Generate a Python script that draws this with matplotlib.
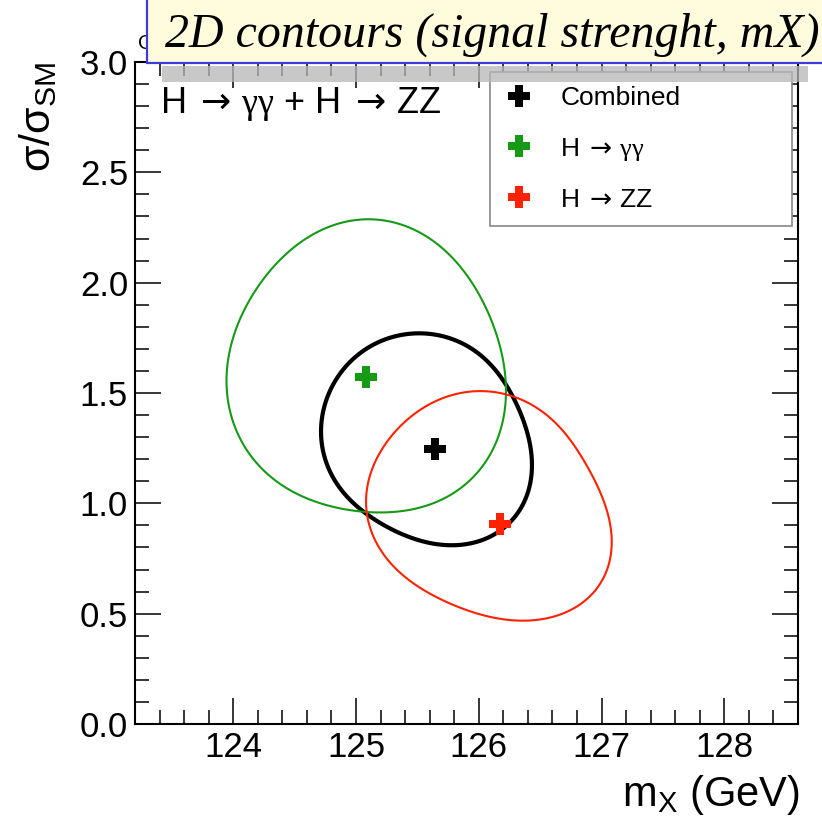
import numpy as np
import matplotlib
matplotlib.use("Agg")
import matplotlib.pyplot as plt
from matplotlib.path import Path
from matplotlib.patches import PathPatch, Rectangle
from matplotlib.transforms import Bbox

plt.rcParams['font.family'] = ['Liberation Sans', 'DejaVu Sans']
plt.rcParams['mathtext.fontset'] = 'custom'
plt.rcParams['mathtext.rm'] = 'Liberation Sans'
plt.rcParams['mathtext.it'] = 'Liberation Sans'
plt.rcParams['mathtext.bf'] = 'Liberation Sans:bold'
plt.rcParams['mathtext.sf'] = 'DejaVu Sans'
plt.rcParams['mathtext.tt'] = 'Liberation Serif'

# ---- data: 68% CL contours in (m_X, sigma/sigma_SM) and best-fit points ----
comb_x = [125.52, 125.79, 126.04, 126.23, 126.36, 126.43, 126.40, 126.31, 126.09, 125.79,
          125.52, 125.22, 124.95, 124.77, 124.72, 124.76, 124.87, 125.06, 125.28]
comb_y = [1.767, 1.740, 1.665, 1.529, 1.378, 1.196, 1.060, 0.939, 0.849, 0.811,
          0.834, 0.902, 1.015, 1.166, 1.317, 1.468, 1.589, 1.695, 1.752]

gg_x = [125.09, 125.48, 125.81, 126.02, 126.16, 126.21, 126.20, 126.08, 125.81, 125.48,
        125.13, 124.75, 124.40, 124.12, 123.97, 123.95, 124.00, 124.15, 124.40, 124.72]
gg_y = [2.288, 2.239, 2.095, 1.929, 1.748, 1.567, 1.385, 1.204, 1.053, 0.977,
        0.959, 0.992, 1.083, 1.234, 1.415, 1.551, 1.748, 1.944, 2.110, 2.239]

zz_x = [126.00, 126.29, 126.57, 126.84, 127.01, 127.08, 127.05, 126.95, 126.68, 126.29,
        125.97, 125.64, 125.34, 125.14, 125.09, 125.10, 125.24, 125.45, 125.70]
zz_y = [1.506, 1.483, 1.393, 1.211, 1.015, 0.849, 0.713, 0.592, 0.502, 0.474,
        0.502, 0.577, 0.698, 0.849, 0.985, 1.106, 1.272, 1.393, 1.476]

best_x = [125.64, 125.08, 126.17]
best_y = [1.245, 1.574, 0.906]
series_labels = ['Combined',
                 r'$\mathrm{H}\;\mathsf{\rightarrow}\,\mathtt{\gamma\gamma}$',
                 r'$\mathrm{H}\;\mathsf{\rightarrow}\,\mathrm{ZZ}$']
series_colors = ['black', '#159a15', '#ff2200']

x_ticks = [124, 125, 126, 127, 128]
y_ticks = [0.0, 0.5, 1.0, 1.5, 2.0, 2.5, 3.0]


def closed_curve(xs, ys, order=4, n=480):
    """Smooth closed path (low-order Fourier fit) through contour points."""
    x = np.asarray(xs, float)
    y = np.asarray(ys, float)
    cx, cy = x.mean(), y.mean()
    t = np.unwrap(np.arctan2((y - cy) / np.ptp(y), (x - cx) / np.ptp(x)))

    def design(tt):
        cols = [np.ones_like(tt)]
        for k in range(1, order + 1):
            cols += [np.cos(k * tt), np.sin(k * tt)]
        return np.column_stack(cols)

    A = design(t)
    cxs, *_ = np.linalg.lstsq(A, x, rcond=None)
    cys, *_ = np.linalg.lstsq(A, y, rcond=None)
    tt = np.linspace(0, 2 * np.pi, n)
    B = design(tt)
    verts = np.column_stack([B @ cxs, B @ cys])
    codes = [Path.MOVETO] + [Path.LINETO] * (n - 2) + [Path.CLOSEPOLY]
    return Path(verts, codes)


fig = plt.figure(figsize=(8.22, 8.18), dpi=100)
ax = fig.add_axes([135 / 822, 94 / 818, 663 / 822, 662 / 818])
ax.set_xlim(123.2, 128.6)
ax.set_ylim(0.0, 3.0)

contours = [(comb_x, comb_y, 3.0), (gg_x, gg_y, 1.5), (zz_x, zz_y, 1.5)]
for (cx, cy, lw), col in zip(contours, series_colors):
    ax.add_patch(PathPatch(closed_curve(cx, cy), fill=False, edgecolor=col,
                           linewidth=lw, zorder=2))

handles = []
for bx, by, col, lab in zip(best_x, best_y, series_colors, series_labels):
    h, = ax.plot([bx], [by], linestyle='none', marker='P', markersize=16,
                 color=col, markeredgewidth=0, label=lab, zorder=4)
    handles.append(h)

# axes styling
for sp in ax.spines.values():
    sp.set_linewidth(1.5)
ax.set_xticks(x_ticks)
ax.set_yticks(y_ticks)
ax.set_xticklabels([str(t) for t in x_ticks])
ax.set_yticklabels([f"{t:.1f}" for t in y_ticks])
ax.set_xticks(np.arange(123.2, 128.61, 0.2), minor=True)
ax.set_yticks(np.arange(0.0, 3.01, 0.1), minor=True)
ax.tick_params(which='both', direction='in', top=True, right=True, width=1.1)
ax.tick_params(which='major', length=19)
ax.tick_params(which='minor', length=10)
ax.tick_params(axis='x', which='major', labelsize=25, pad=5)
ax.tick_params(axis='y', which='major', labelsize=25, pad=5)

ax.set_xlabel(r'm$_{\rm X}$ (GeV)', fontsize=30, ha='right', va='center')
ax.xaxis.set_label_coords(1.003, -0.107)
ax.set_ylabel(r'$\sigma/\sigma_{\rm SM}$', fontsize=31, ha='right', va='center',
              rotation=90, rotation_mode='anchor')
ax.yaxis.set_label_coords(-0.146, 1.0)

ax.text(0.038, 0.923,
        r'$\mathrm{H}\;\mathsf{\rightarrow}\,\mathtt{\gamma\gamma}$ + '
        r'$\mathrm{H}\;\mathsf{\rightarrow}\,\mathrm{ZZ}$',
        transform=ax.transAxes, fontsize=26, ha='left', va='baseline')

leg = ax.legend(handles=handles, loc='upper left',
                bbox_to_anchor=(0.535, 0.758, 0.456, 0.227), mode='expand',
                borderaxespad=0, fontsize=19, frameon=True, fancybox=False,
                edgecolor='#888888', framealpha=1, handlelength=1.15,
                handletextpad=0.97, labelspacing=0.95, borderpad=0.55)
leg.get_frame().set_linewidth(1.2)

# header banner
hidden = fig.text(138 / 822, 1 - 49 / 818, 'CMS', fontsize=15, zorder=3)
hidden.set_clip_box(Bbox([[0, 0], [147, 818]]))
hidden.set_clip_on(True)
fig.patches.append(Rectangle((162 / 822, 1 - 82 / 818), 646 / 822, 16 / 818,
                             transform=fig.transFigure, facecolor='#b7b7b7',
                             edgecolor='none', alpha=0.76, zorder=4))
fig.patches.append(Rectangle((147 / 822, 1 - 63 / 818), 0.9, 0.2,
                             transform=fig.transFigure, facecolor='#fffbdc',
                             edgecolor='#3c3cdc', linewidth=1.6, zorder=5))
fig.text(165 / 822, 1 - 47 / 818, '2D contours (signal strenght, mX)',
         family='Liberation Serif', style='italic', fontsize=34.5,
         ha='left', va='baseline', zorder=6)

fig.savefig('out.png', dpi=100)
